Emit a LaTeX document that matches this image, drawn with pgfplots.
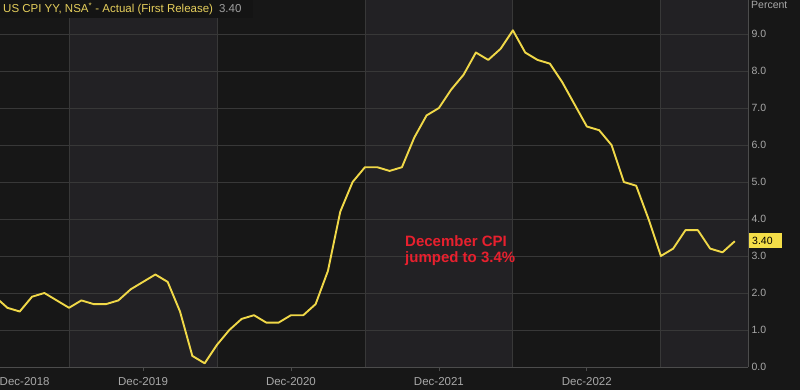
\documentclass[border=0pt]{standalone}
\usepackage{pgfplots}
\pgfplotsset{compat=1.18}
\usepackage{fontspec}
\setmainfont{Liberation Sans}
\definecolor{bg}{HTML}{171717}
\definecolor{band}{HTML}{222124}
\definecolor{gridc}{HTML}{383838}
\definecolor{axisl}{HTML}{4C4C4C}
\definecolor{tickc}{HTML}{A8A8A8}
\definecolor{cpi}{HTML}{F0D848}
\definecolor{ttl}{HTML}{E6CF5C}
\definecolor{anno}{HTML}{E8202E}
\definecolor{valbox}{HTML}{F4DE48}
\pgfplotsset{
  chartgeom/.style={
    at={(0pt,22pt)}, anchor=south west, scale only axis,
    width=748pt, height=367pt,
    xmin=0.4, xmax=61.07, ymin=0, ymax=9.92,
  }
}
\begin{document}
\begin{tikzpicture}[x=1pt,y=1pt]
\fill[bg] (-20,-20) rectangle (820,409);
% background bands and horizontal grid
\begin{axis}[chartgeom, hide axis]
\addplot[fill=band, draw=none] coordinates {(6,0) (18,0) (18,9.92) (6,9.92)} -- cycle;
\addplot[fill=band, draw=none] coordinates {(30,0) (42,0) (42,9.92) (30,9.92)} -- cycle;
\addplot[fill=band, draw=none] coordinates {(54,0) (62,0) (62,9.92) (54,9.92)} -- cycle;
\pgfplotsinvokeforeach{1,...,9}{
  \addplot[gridc, line width=0.8pt] coordinates {(0,#1) (62,#1)};
}
\end{axis}
\begin{axis}[
  chartgeom,
  axis x line*=bottom, axis y line*=right,
  axis line style={draw=axisl, line width=1pt},
  ytick={0,1,...,9},
  yticklabel style={font=\fontsize{10.5}{12}\selectfont, text=tickc,
    /pgf/number format/.cd, fixed, fixed zerofill, precision=1, assume math mode=true},
  xtick={2.4,12,24,36,48},
  xticklabels={Dec-2018,Dec-2019,Dec-2020,Dec-2021,Dec-2022},
  major tick length=0pt,
  minor xtick={12,24,36,48}, minor tick length=4pt,
  minor x tick style={draw=axisl, line width=0.8pt},
  tick align=outside,
  xticklabel style={font=\fontsize{11.5}{13}\selectfont, text=tickc, anchor=base, yshift=-18pt},
  extra x ticks={6,18,30,42,54}, extra x tick labels={},
  extra x tick style={grid=major, major tick length=0pt},
  major grid style={draw=gridc, line width=0.8pt},
]
\addplot[cpi, line width=1.9pt, line join=round] table {
x y
-1 2.2
0 1.9
1 1.6
2 1.5
3 1.9
4 2.0
5 1.8
6 1.6
7 1.8
8 1.7
9 1.7
10 1.8
11 2.1
12 2.3
13 2.5
14 2.3
15 1.5
16 0.3
17 0.1
18 0.6
19 1.0
20 1.3
21 1.4
22 1.2
23 1.2
24 1.4
25 1.4
26 1.7
27 2.6
28 4.2
29 5.0
30 5.4
31 5.4
32 5.3
33 5.4
34 6.2
35 6.8
36 7.0
37 7.5
38 7.9
39 8.5
40 8.3
41 8.6
42 9.1
43 8.5
44 8.3
45 8.2
46 7.7
47 7.1
48 6.5
49 6.4
50 6.0
51 5.0
52 4.9
53 4.0
54 3.0
55 3.2
56 3.7
57 3.7
58 3.2
59 3.1
60 3.4
};
\end{axis}
% title box
\fill[black!92] (0,371) rectangle (253,389);
\node[anchor=base west, inner sep=0pt, text=ttl, font=\fontsize{11.5}{13}\selectfont] at (3,376)
  {US CPI YY, NSA\textsuperscript{*} - Actual (First Release)\hspace{6pt}\textcolor{tickc!110}{3.40}};
% Percent label
\node[anchor=west, inner sep=0pt, text=tickc, font=\fontsize{10.5}{12}\selectfont] at (751,384) {Percent};
% value box
\fill[valbox] (749,141) rectangle (782,156);
\node[anchor=west, inner sep=0pt, text=black, font=\fontsize{10.5}{12}\selectfont] at (752,148.5) {3.40};
% annotation
\node[anchor=base west, inner sep=0pt, text=anno, font=\bfseries\fontsize{15}{16}\selectfont] at (405,143) {December CPI};
\node[anchor=base west, inner sep=0pt, text=anno, font=\bfseries\fontsize{15}{16}\selectfont] at (405,127) {jumped to 3.4\%};
\pgfresetboundingbox
\path[use as bounding box] (0,0) rectangle (800,389);
\end{tikzpicture}
\end{document}
